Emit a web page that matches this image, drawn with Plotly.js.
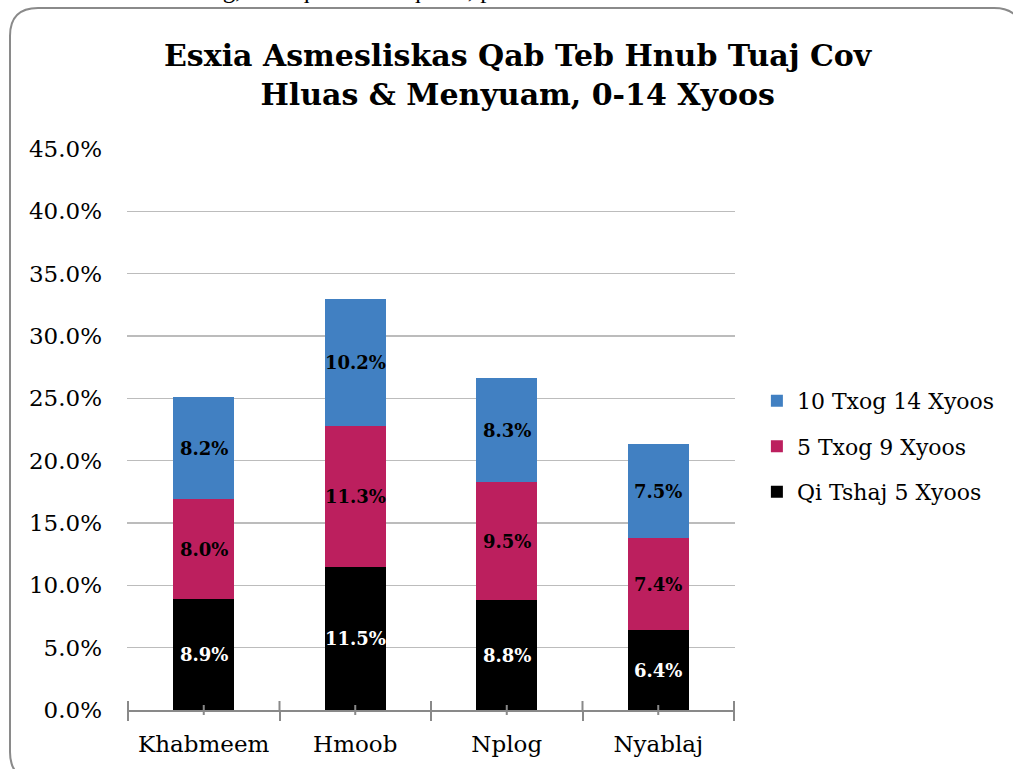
<!DOCTYPE html>
<html>
<head>
<meta charset="utf-8">
<script src="https://cdn.plot.ly/plotly-3.0.1.min.js"></script>
<style>html,body{margin:0;padding:0;background:#fff;overflow:hidden}#chart{width:1013px;height:769px}</style>
</head>
<body>
<div id="chart"></div>
<script>
const categories = ["Khabmeem", "Hmoob", "Nplog", "Nyablaj"];
const under5 = [8.9, 11.5, 8.8, 6.4];
const age5to9 = [8.0, 11.3, 9.5, 7.4];
const age10to14 = [8.2, 10.2, 8.3, 7.5];
const seriesNames = ["Qi Tshaj 5 Xyoos", "5 Txog 9 Xyoos", "10 Txog 14 Xyoos"];
const yTickVals = [0, 5, 10, 15, 20, 25, 30, 35, 40, 45];
const titleText = "Esxia Asmesliskas Qab Teb Hnub Tuaj Cov<br>Hluas & Menyuam, 0-14 Xyoos";
const topText = "an kev nkio mob nkeeg, nam qhuav dhv qhuav, pas kev dhas me";

const FONT = "DejaVu Serif, serif";
const series = [under5, age5to9, age10to14];
const colors = ["#000000", "#BC1F5E", "#4180C2"];
const labelColors = ["#ffffff", "#000000", "#000000"];

const traces = series.map((vals, k) => ({
  type: "bar",
  name: seriesNames[k],
  legendgroup: "g" + k,
  legendrank: 3 - k,
  x: categories,
  y: vals,
  marker: {color: colors[k], line: {width: 0}},
  hoverinfo: "skip"
}));

const annotations = [];
categories.forEach((c, i) => {
  let base = 0;
  series.forEach((vals, k) => {
    annotations.push({
      x: c, y: base + vals[i] / 2, xref: "x", yref: "y",
      text: vals[i].toFixed(1) + "%", showarrow: false,
      font: {family: FONT, size: 18, color: labelColors[k], weight: "bold"}
    });
    base += vals[i];
  });
});
annotations.push({
  xref: "paper", yref: "paper", x: -0.2089, y: 1.285, xanchor: "left", yanchor: "middle",
  text: topText, showarrow: false, font: {family: "Liberation Serif, serif", size: 25, color: "#000"}
});

// rounded chart border in paper coordinates
const pw = 608, ph = 561;
const px = p => (p - 127) / pw, py = p => (710 - p) / ph;
const x0 = px(10), x1 = px(1022), yt = py(8), yb = py(780);
const rx = 28 / pw, ry = 28 / ph;
const border = `M${x0+rx},${yt} L${x1-rx},${yt} Q${x1},${yt} ${x1},${yt-ry} L${x1},${yb+ry} Q${x1},${yb} ${x1-rx},${yb} L${x0+rx},${yb} Q${x0},${yb} ${x0},${yb+ry} L${x0},${yt-ry} Q${x0},${yt} ${x0+rx},${yt} Z`;

const shapes = [{type: "path", xref: "paper", yref: "paper", path: border, line: {color: "#8a8a8a", width: 2}}];
const tickCol = "#898989";
for (let i = 0; i <= categories.length; i++) {
  shapes.push({type: "line", xref: "x", yref: "paper", x0: i - 0.5, x1: i - 0.5, y0: 0, y1: 9 / ph, line: {color: tickCol, width: 2}});
}
categories.forEach((c, i) => {
  shapes.push({type: "line", xref: "x", yref: "paper", x0: i, x1: i, y0: -5 / ph, y1: 5 / ph, line: {color: tickCol, width: 2}});
});

const layout = {
  width: 1013, height: 769,
  margin: {l: 127, r: 278, t: 149, b: 59, autoexpand: false},
  paper_bgcolor: "#fff", plot_bgcolor: "#fff",
  font: {family: FONT, color: "#000", size: 23},
  title: {text: titleText, x: 0.511, xref: "container", xanchor: "center", y: 0.914, yref: "container", yanchor: "middle",
          font: {family: FONT, size: 30, color: "#000", weight: "bold"}},
  barmode: "stack", bargap: 0.6,
  showlegend: true,
  legend: {x: 1.036, xanchor: "left", y: 0.47, yanchor: "middle", traceorder: "grouped", tracegroupgap: 14,
           font: {family: FONT, size: 22, color: "#000"}, itemwidth: 30, bgcolor: "rgba(0,0,0,0)"},
  xaxis: {type: "category", showline: true, linecolor: tickCol, linewidth: 2, ticks: "outside", tickson: "boundaries",
          ticklen: 9, tickwidth: 2, tickcolor: tickCol, showgrid: false, tickfont: {size: 23}, fixedrange: true, ticklabelstandoff: 12},
  yaxis: {range: [0, 45], tickvals: yTickVals, ticktext: yTickVals.map(v => v.toFixed(1) + "%"), showline: false, ticks: "",
          showgrid: true, gridcolor: "#bcbcbc", gridwidth: 1.5, zeroline: false, tickfont: {size: 23}, ticklabelstandoff: 24, fixedrange: true},
  annotations: annotations,
  shapes: shapes
};

Plotly.newPlot("chart", traces, layout, {displayModeBar: false, staticPlot: true});
</script>
</body>
</html>
